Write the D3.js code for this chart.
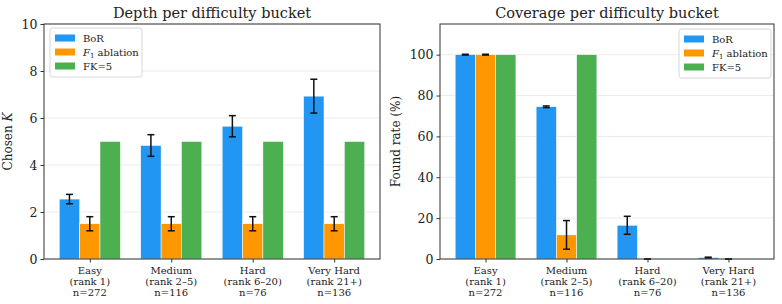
<!DOCTYPE html>
<html><head><meta charset="utf-8">
<script src="https://cdn.jsdelivr.net/npm/d3@7"></script>
<style>body{margin:0;background:#fff;} text{font-family:"DejaVu Serif",serif;}</style>
</head><body><svg id="c" width="782" height="304"></svg>
<script>
const categories = [["Easy","(rank 1)","n=272"],["Medium","(rank 2\u20135)","n=116"],["Hard","(rank 6\u201320)","n=76"],["Very Hard","(rank 21+)","n=136"]];
const seriesNames = ["BoR","F1 ablation","FK=5"];
const colors = ["#2196F3","#FF9800","#4CAF50"];
// Depth panel
const depthBoR = [2.55, 4.83, 5.65, 6.93];
const depthBoRErr = [0.2, 0.46, 0.45, 0.72];
const depthF1 = [1.5, 1.5, 1.5, 1.5];
const depthF1Err = [0.3, 0.3, 0.3, 0.3];
const depthFK = [5, 5, 5, 5];
const depthTicks = [0, 2, 4, 6, 8, 10];
// Coverage panel
const covBoR = [100, 74.5, 16.5, 0.7];
const covBoRErr = [0.2, 0.4, 4.4, 0.2];
const covF1 = [100, 11.8, 0, 0];
const covF1Err = [0.2, 7.0, 0, 0];
const covFK = [100, 100, 0, 0];
const covTicks = [0, 20, 40, 60, 80, 100];

const svg = d3.select("#c");

function panel(opts){
  const {x0,x1,y0,y1,ymax,ticks,title,values,errs,legendPos,ylabel,ylabelOff} = opts;
  const g = svg.append("g");
  const x = d3.scaleLinear().domain([-0.5625, 3.5625]).range([x0,x1]);
  const y = d3.scaleLinear().domain([0,ymax]).range([y1,y0]);
  // grid
  g.selectAll(".grid").data(ticks).join("line")
    .attr("x1",x0).attr("x2",x1).attr("y1",d=>y(d)).attr("y2",d=>y(d))
    .attr("stroke","#e6e6e6").attr("stroke-width",0.8);
  const bw = 0.25;
  values.forEach((vals,si)=>{
    const off = (si-1)*bw;
    g.selectAll(".b"+si).data(vals).join("rect")
      .attr("x",(d,i)=>x(i+off-bw/2)).attr("width",x(bw)-x(0))
      .attr("y",d=>y(d)).attr("height",d=>y(0)-y(d))
      .attr("fill",colors[si]).attr("stroke","#fff").attr("stroke-width",0.5);
  });
  errs.forEach((e,si)=>{
    if(!e) return;
    const off = (si-1)*bw;
    const vals = values[si];
    e.forEach((err,i)=>{
      const cx = x(i+off);
      const lo = y(vals[i]-err), hi = y(vals[i]+err);
      g.append("line").attr("x1",cx).attr("x2",cx).attr("y1",lo).attr("y2",hi).attr("stroke","#111").attr("stroke-width",1.5);
      [lo,hi].forEach(yy=>g.append("line").attr("x1",cx-3.5).attr("x2",cx+3.5).attr("y1",yy).attr("y2",yy).attr("stroke","#111").attr("stroke-width",1.5));
    });
  });
  // frame
  g.append("rect").attr("x",x0).attr("y",y0).attr("width",x1-x0).attr("height",y1-y0)
    .attr("fill","none").attr("stroke","#333").attr("stroke-width",1);
  // y axis
  const ya = g.append("g").attr("transform",`translate(${x0},0)`)
    .call(d3.axisLeft(y).tickValues(ticks).tickSize(3.5).tickPadding(3));
  ya.select(".domain").remove();
  ya.selectAll("text").attr("font-size",12.5).attr("font-family","DejaVu Serif").attr("fill","#222");
  ya.selectAll("line").attr("stroke","#333");
  // x axis
  const xa = g.append("g").attr("transform",`translate(0,${y1})`)
    .call(d3.axisBottom(x).tickValues([0,1,2,3]).tickSize(3.5).tickFormat(""));
  xa.select(".domain").remove();
  xa.selectAll("line").attr("stroke","#333");
  categories.forEach((c,i)=>{
    c.forEach((line,j)=>{
      g.append("text").attr("x",x(i)).attr("y",y1+15+j*11.2).attr("text-anchor","middle")
        .attr("font-size",10).attr("fill","#222").text(line);
    });
  });
  // title
  g.append("text").attr("x",(x0+x1)/2).attr("y",y0-6).attr("text-anchor","middle")
    .attr("font-size",14.5).attr("fill","#222").text(title);
  // ylabel
  const yl = g.append("text").attr("transform",`translate(${x0-ylabelOff},${(y0+y1)/2}) rotate(-90)`)
    .attr("text-anchor","middle").attr("font-size",12).attr("fill","#222");
  ylabel(yl);
  // legend
  const [lx,ly] = legendPos;
  const lw = 92, lh = 49;
  g.append("rect").attr("x",lx).attr("y",ly).attr("width",lw).attr("height",lh).attr("rx",2.5)
    .attr("fill","#fff").attr("fill-opacity",0.85).attr("stroke","#ccc").attr("stroke-width",0.8);
  seriesNames.forEach((s,i)=>{
    const ey = ly+9.5+i*14;
    g.append("rect").attr("x",lx+5).attr("y",ey-3).attr("width",20).attr("height",7).attr("fill",colors[i]);
    const t = g.append("text").attr("x",lx+33).attr("y",ey+4).attr("font-size",10).attr("fill","#222");
    if(s==="F1 ablation"){
      t.append("tspan").attr("font-style","italic").text("F");
      t.append("tspan").attr("font-size",7).attr("dy",2).text("1");
      t.append("tspan").attr("dy",-2).text(" ablation");
    } else t.text(s);
  });
}

panel({x0:44,x1:380,y0:24,y1:259,ymax:10,ticks:depthTicks,title:"Depth per difficulty bucket",
  values:[depthBoR,depthF1,depthFK],errs:[depthBoRErr,depthF1Err,null],legendPos:[50,28],ylabelOff:32,
  ylabel:t=>{t.append("tspan").text("Chosen ");t.append("tspan").attr("font-style","italic").text("K");}});
panel({x0:440,x1:774,y0:24,y1:259,ymax:115,ticks:covTicks,title:"Coverage per difficulty bucket",
  values:[covBoR,covF1,covFK],errs:[covBoRErr,covF1Err,null],legendPos:[679,29],ylabelOff:40,
  ylabel:t=>t.text("Found rate (%)")});
</script></body></html>
